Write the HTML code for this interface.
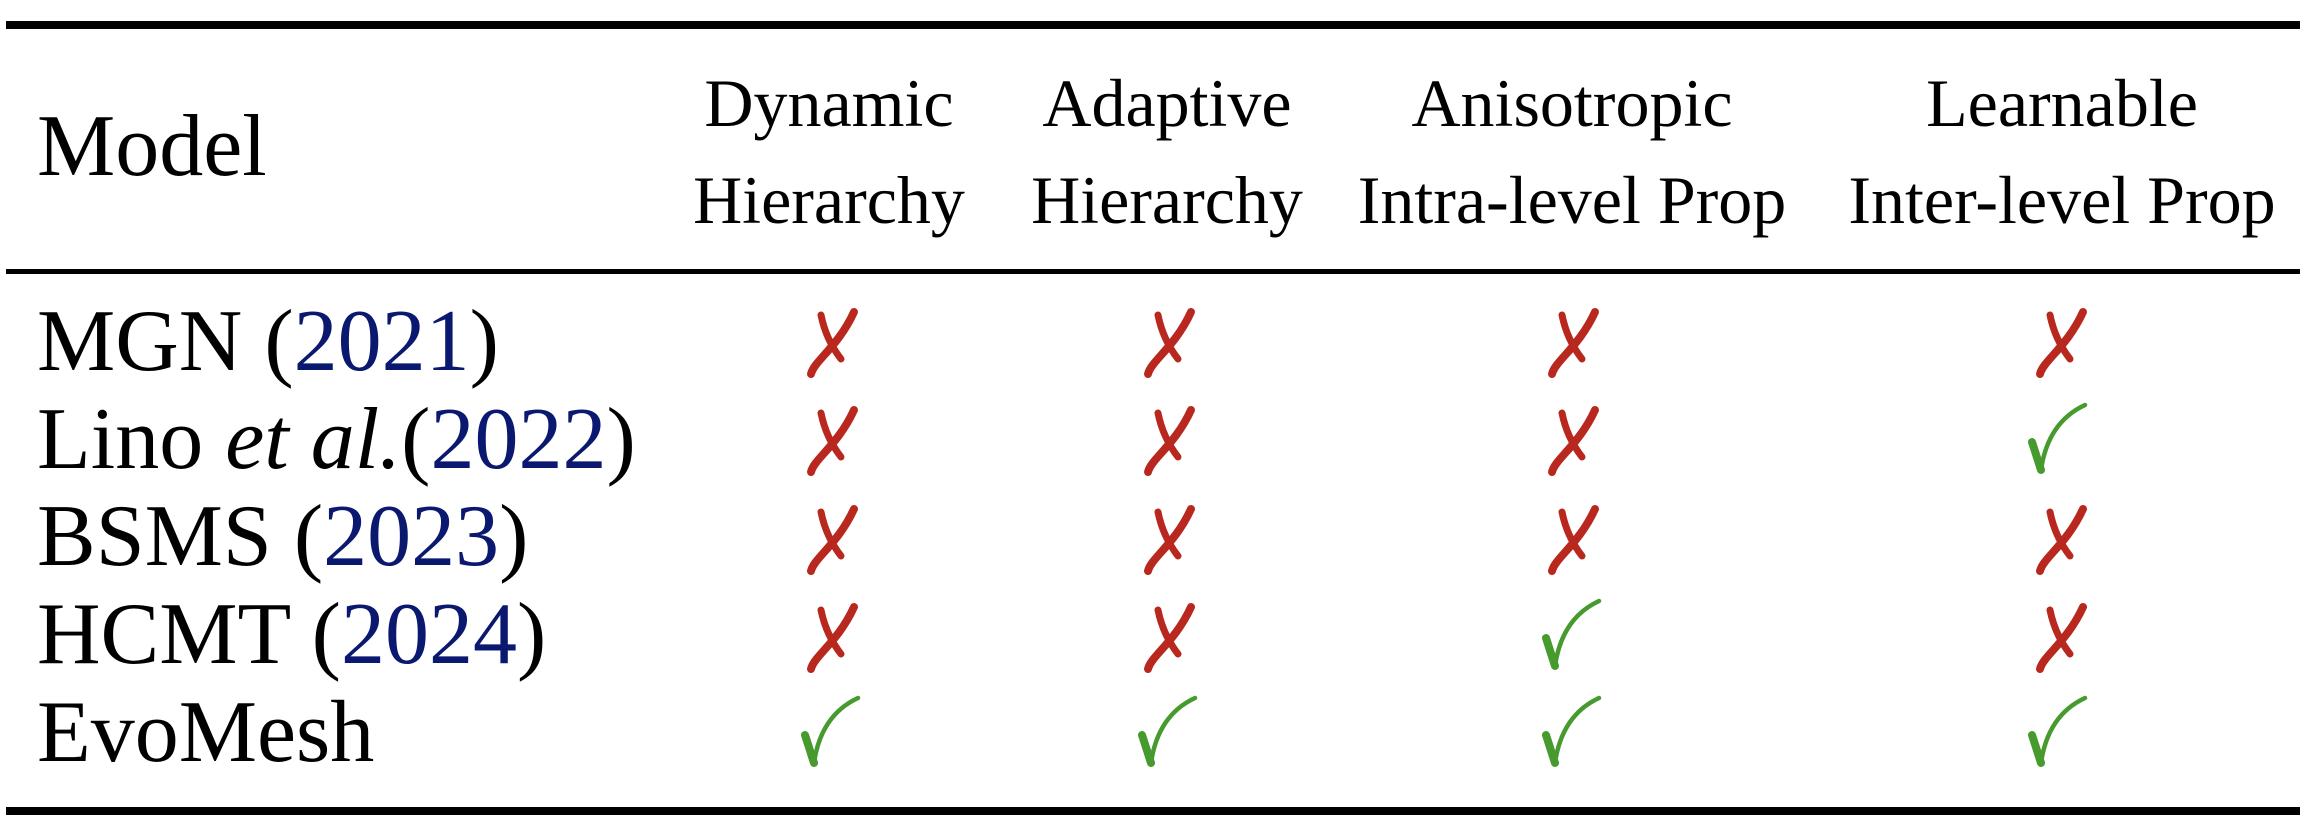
<!DOCTYPE html>
<html><head><meta charset="utf-8"><style>
html,body{margin:0;padding:0;background:#fff;}
svg{display:block}
text{font-family:"Liberation Serif",serif;fill:#000}
.h{font-size:68px;text-anchor:middle}
.m{font-size:88px}
.b{fill:#0b1870}
</style></head><body>
<svg width="2320" height="830" viewBox="0 0 2320 830" xmlns="http://www.w3.org/2000/svg">
<defs>
<g id="x">
<path d="M24,-63 C8,-28 -16,-14 -19,-1" stroke="#b8281e" stroke-width="8" fill="none" stroke-linecap="round"/>
<path d="M-9,-60 C-5,-40 4,-25 11,-16" stroke="#b8281e" stroke-width="7" fill="none" stroke-linecap="round"/>
</g>
<g id="c">
<path d="M-25,-28 L-16,0" stroke="#479a2e" stroke-width="8" fill="none" stroke-linecap="round"/>
<path d="M-16,0 C-12,-28 0,-52 28,-65" stroke="#479a2e" stroke-width="4.5" fill="none" stroke-linecap="round"/>
</g>
</defs>
<rect x="6" y="21" width="2294" height="8" fill="#000"/>
<rect x="6" y="269" width="2294" height="5" fill="#000"/>
<rect x="6" y="807" width="2294" height="8" fill="#000"/>

<text class="m" x="37" y="175">Model</text>
<text class="h" x="829" y="126">Dynamic</text>
<text class="h" x="829" y="223">Hierarchy</text>
<text class="h" x="1167" y="126">Adaptive</text>
<text class="h" x="1167" y="223">Hierarchy</text>
<text class="h" x="1572" y="126">Anisotropic</text>
<text class="h" x="1572" y="223">Intra-level Prop</text>
<text class="h" x="2062" y="126">Learnable</text>
<text class="h" x="2062" y="223">Inter-level Prop</text>

<text class="m" x="37" y="370">MGN (<tspan class="b">2021</tspan>)</text>
<text class="m" x="37" y="468">Lino <tspan font-style="italic">et al.</tspan>(<tspan class="b">2022</tspan>)</text>
<text class="m" x="37" y="565">BSMS (<tspan class="b">2023</tspan>)</text>
<text class="m" x="37" y="663">HCMT (<tspan class="b">2024</tspan>)</text>
<text class="m" x="37" y="761">EvoMesh</text>

<use href="#x" x="830" y="375"/><use href="#x" x="1167" y="375"/><use href="#x" x="1571" y="375"/><use href="#x" x="2059" y="375"/>
<use href="#x" x="830" y="473"/><use href="#x" x="1167" y="473"/><use href="#x" x="1571" y="473"/><use href="#c" x="2057" y="470"/>
<use href="#x" x="830" y="572"/><use href="#x" x="1167" y="572"/><use href="#x" x="1571" y="572"/><use href="#x" x="2059" y="572"/>
<use href="#x" x="830" y="670"/><use href="#x" x="1167" y="670"/><use href="#c" x="1571" y="666"/><use href="#x" x="2059" y="670"/>
<use href="#c" x="830" y="763"/><use href="#c" x="1167" y="763"/><use href="#c" x="1571" y="763"/><use href="#c" x="2057" y="763"/>
</svg>
</body></html>
